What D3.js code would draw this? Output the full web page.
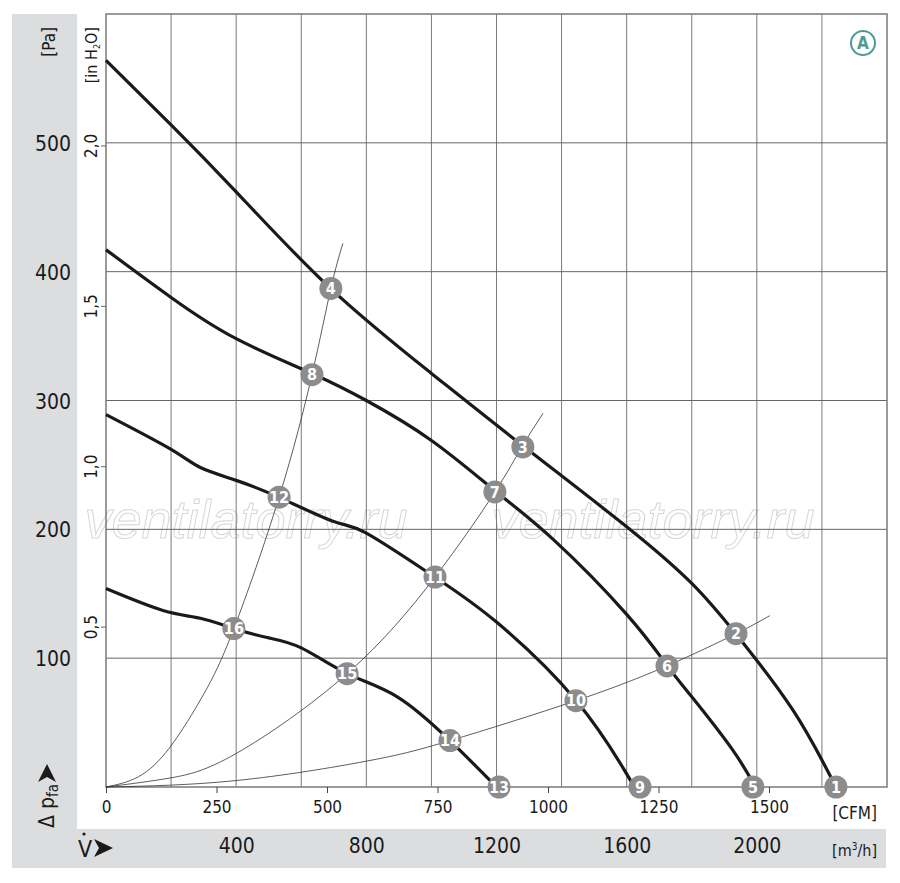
<!DOCTYPE html>
<html>
<head>
<meta charset="utf-8">
<script src="https://cdn.jsdelivr.net/npm/d3@7"></script>
<style>
  body { margin: 0; background: #fff; }
  svg { display: block; }
  text { font-family: "Liberation Sans Narrow", "DejaVu Sans Condensed", "Liberation Sans", sans-serif; fill: #1a1a1a; }
</style>
</head>
<body>
<div id="vis-container"></div>
<script>
// Fan curves: air flow [m3/h] and static pressure [Pa]
const v1 = [0, 200, 400, 690, 1000, 1280, 1600, 1800, 1935, 2110, 2243];
const p1 = [564, 514, 462, 387, 321, 265, 202, 158, 119, 60, 0];
const v2 = [0, 200, 400, 633, 800, 1000, 1200, 1375, 1600, 1725, 1800, 1925, 1995];
const p2 = [417, 380, 348, 321, 300, 269, 229, 192, 134, 94, 70, 29, 0];
const v3 = [0, 200, 290, 400, 530, 700, 800, 1010, 1200, 1445, 1598, 1625];
const p3 = [289, 262, 248, 238, 225, 206, 197, 163, 128, 67, 11, 0];
const v4 = [0, 175, 290, 393, 495, 600, 741, 895, 1057, 1200];
const p4 = [154, 137, 131, 123, 116, 108, 88, 70, 36, 0];

// System (resistance) curves
const sysAv = [0, 100, 197, 300, 393, 532, 633, 691, 728];
const sysAp = [0, 8, 31, 72, 123, 225, 320, 387, 422];
const sysBv = [0, 197, 400, 741, 1011, 1195, 1278, 1343];
const sysBp = [0, 7, 26, 88, 163, 229, 264, 290];
const sysCv = [0, 400, 799, 1057, 1444, 1724, 1936, 2040];
const sysCp = [0, 5, 20, 36, 67, 94, 119, 133];

// Operating points
const markerNum = [1, 2, 3, 4, 5, 6, 7, 8, 9, 10, 11, 12, 13, 14, 15, 16];
const markerV = [2243, 1936, 1281, 691, 1988, 1724, 1195, 633, 1641, 1444, 1011, 532, 1208, 1057, 741, 393];
const markerP = [0, 119, 264, 387, 0, 94, 229, 320, 0, 67, 163, 225, 0, 36, 88, 123];

// Tick labels
const paTicks = [100, 200, 300, 400, 500];
const inchTicks = [0.5, 1.0, 1.5, 2.0];
const cfmTicks = [0, 250, 500, 750, 1000, 1250, 1500];
const m3hTicks = [400, 800, 1200, 1600, 2000];

const width = 900;
const height = 883;
const plot = { left: 106, right: 887, top: 14, bottom: 787 };

const svg = d3.select("#vis-container")
  .append("svg")
  .attr("width", width)
  .attr("height", height)
  .attr("viewBox", [0, 0, width, height]);

// Scales
const xScale = d3.scaleLinear().domain([0, 2400]).range([plot.left, plot.right]);
const yScale = d3.scaleLinear().domain([0, 600]).range([plot.bottom, plot.top]);
const cfmScale = d3.scaleLinear().domain([0, 1500]).range([106, 769]);
const inchScale = d3.scaleLinear().domain([0, 2]).range([plot.bottom, yScale(498)]);

// grey bands (left + bottom)
svg.append("path")
  .attr("d", `M12,14 H77 V829 H886 V868 H12 Z`)
  .attr("fill", "#dcdddf");

// watermark
[246, 653].forEach(cx => {
  svg.append("text")
    .attr("x", cx)
    .attr("y", 538)
    .attr("text-anchor", "middle")
    .attr("font-size", 54)
    .attr("font-style", "italic")
    .style("font-family", "'Liberation Sans', sans-serif")
    .style("fill", "none")
    .attr("stroke", "#d6d6d6")
    .attr("stroke-width", 1)
    .text("ventilatorry.ru");
});

// grid
svg.append("g")
  .selectAll("line")
  .data(d3.range(200, 2400, 200))
  .enter()
  .append("line")
  .attr("x1", d => xScale(d))
  .attr("x2", d => xScale(d))
  .attr("y1", plot.top)
  .attr("y2", plot.bottom)
  .attr("stroke", "#7a7a7a")
  .attr("stroke-width", 1);

svg.append("g")
  .selectAll("line")
  .data(paTicks)
  .enter()
  .append("line")
  .attr("x1", plot.left)
  .attr("x2", plot.right)
  .attr("y1", d => yScale(d))
  .attr("y2", d => yScale(d))
  .attr("stroke", "#666")
  .attr("stroke-width", 1);

svg.append("rect")
  .attr("x", plot.left)
  .attr("y", plot.top)
  .attr("width", plot.right - plot.left)
  .attr("height", plot.bottom - plot.top)
  .attr("fill", "none")
  .attr("stroke", "#7a7a7a")
  .attr("stroke-width", 1.5);

// Pa axis (in grey band)
svg.append("g")
  .attr("transform", `translate(71,0)`)
  .call(d3.axisLeft(yScale).tickValues(paTicks).tickSize(0).tickPadding(0))
  .call(g => g.select(".domain").remove())
  .call(g => g.selectAll("text").attr("font-size", 21).attr("dy", "0.36em"));

// in H2O axis
svg.append("g")
  .attr("transform", `translate(${plot.left},0)`)
  .call(d3.axisLeft(inchScale).tickValues(inchTicks).tickSize(5)
    .tickFormat(d => d3.format(".1f")(d).replace(".", ",")))
  .call(g => g.select(".domain").remove())
  .call(g => g.selectAll("line").attr("stroke", "#666"))
  .call(g => g.selectAll("text")
    .attr("transform", "rotate(-90)")
    .attr("x", 0)
    .attr("y", -9)
    .attr("dy", 0)
    .attr("text-anchor", "middle")
    .attr("font-size", 17));

// CFM axis
svg.append("g")
  .attr("transform", `translate(0,${plot.bottom})`)
  .call(d3.axisBottom(cfmScale).tickValues(cfmTicks).tickSize(6).tickPadding(8)
    .tickFormat(d3.format("d")))
  .call(g => g.select(".domain").remove())
  .call(g => g.selectAll("line").attr("stroke", "#444"))
  .call(g => g.selectAll("text").attr("font-size", 17));

// m3/h axis
svg.append("g")
  .attr("transform", `translate(0,838)`)
  .call(d3.axisBottom(xScale).tickValues(m3hTicks).tickSize(0).tickPadding(0)
    .tickFormat(d3.format("d")))
  .call(g => g.select(".domain").remove())
  .call(g => g.selectAll("text").attr("font-size", 21));

// unit labels
svg.append("text")
  .attr("x", 877).attr("y", 819)
  .attr("text-anchor", "end")
  .attr("font-size", 17)
  .text("[CFM]");

const m3 = svg.append("text")
  .attr("x", 877).attr("y", 856)
  .attr("text-anchor", "end")
  .attr("font-size", 16)
  .text("[m");
m3.append("tspan").attr("font-size", 10).attr("dy", -6).text("3");
m3.append("tspan").attr("dy", 6).text("/h]");

svg.append("text")
  .attr("transform", "translate(55,27) rotate(-90)")
  .attr("text-anchor", "end")
  .attr("font-size", 17)
  .text("[Pa]");

const inh = svg.append("text")
  .attr("transform", "translate(97,27) rotate(-90)")
  .attr("text-anchor", "end")
  .attr("font-size", 16)
  .text("[in H");
inh.append("tspan").attr("font-size", 9).attr("dy", 3).text("2");
inh.append("tspan").attr("dy", -3).text("O]");

// delta p_fa label with arrow
const dp = svg.append("text")
  .attr("transform", "translate(54,828) rotate(-90)")
  .attr("font-size", 21)
  .text("\u0394 p");
dp.append("tspan").attr("font-size", 15).attr("dy", 4).text("fa");

svg.append("path")
  .attr("d", "M47,764 L56,782 L47,777 L38,782 Z")
  .attr("fill", "#1a1a1a");

// V dot label with arrow
svg.append("text")
  .attr("x", 78).attr("y", 857)
  .attr("font-size", 23)
  .text("V");
svg.append("circle")
  .attr("cx", 84).attr("cy", 834)
  .attr("r", 1.6)
  .attr("fill", "#1a1a1a");
svg.append("path")
  .attr("d", "M94,839 L113,848 L94,857 L99,848 Z")
  .attr("fill", "#1a1a1a");

// legend A
svg.append("circle")
  .attr("cx", 863).attr("cy", 43)
  .attr("r", 12)
  .attr("fill", "#fff")
  .attr("stroke", "#4e9b96")
  .attr("stroke-width", 2);
svg.append("text")
  .attr("x", 863).attr("y", 49)
  .attr("text-anchor", "middle")
  .attr("font-size", 17)
  .attr("font-weight", "bold")
  .style("fill", "#4e9b96")
  .text("A");

// line generator
const line = d3.line()
  .x(d => xScale(d[0]))
  .y(d => yScale(d[1]))
  .curve(d3.curveNatural);

const zip = (a, b) => a.map((d, i) => [d, b[i]]);

// system curves (thin)
[[sysAv, sysAp], [sysBv, sysBp], [sysCv, sysCp]].forEach(([v, p]) => {
  svg.append("path")
    .datum(zip(v, p))
    .attr("d", line)
    .attr("fill", "none")
    .attr("stroke", "#333")
    .attr("stroke-width", 0.8);
});

// fan curves (thick)
[[v1, p1], [v2, p2], [v3, p3], [v4, p4]].forEach(([v, p]) => {
  svg.append("path")
    .datum(zip(v, p))
    .attr("d", line)
    .attr("fill", "none")
    .attr("stroke", "#1a1a1a")
    .attr("stroke-width", 3.2);
});

// markers
const markers = svg.append("g")
  .selectAll("g")
  .data(markerNum.map((n, i) => ({ n: n, v: markerV[i], p: markerP[i] })))
  .enter()
  .append("g")
  .attr("transform", d => `translate(${xScale(d.v)},${yScale(d.p)})`);

markers.append("circle")
  .attr("r", 11.5)
  .attr("fill", "#8c8c8c");

markers.append("text")
  .attr("text-anchor", "middle")
  .attr("dy", "0.36em")
  .attr("font-size", 16)
  .attr("font-weight", "bold")
  .style("fill", "#fff")
  .text(d => d.n);
</script>
</body>
</html>
